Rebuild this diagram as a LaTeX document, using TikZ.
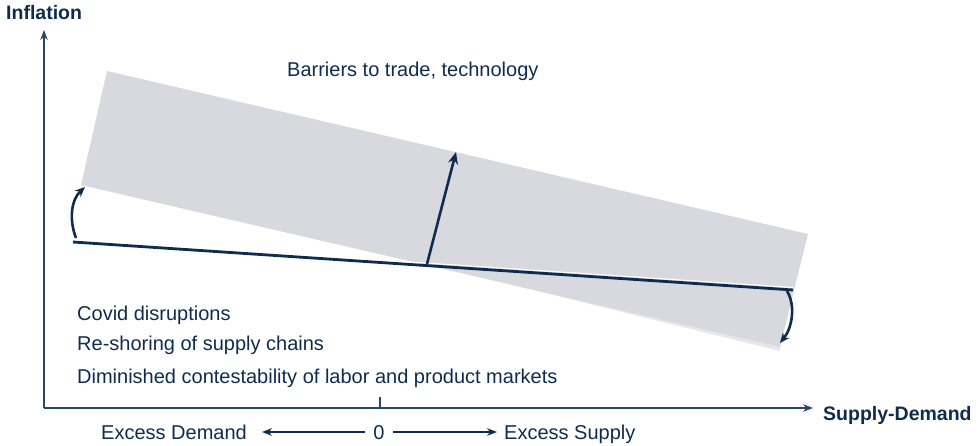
\documentclass[tikz,border=0pt]{standalone}
\usepackage{fontspec}
\setmainfont{Liberation Sans}
\usetikzlibrary{arrows.meta,calc}
\definecolor{navy}{HTML}{0F2C4E}
\definecolor{axisblue}{HTML}{2A4866}
\definecolor{bandgray}{HTML}{D8D9DF}
\definecolor{bandedge}{HTML}{E6E7EB}
\begin{document}
\begin{tikzpicture}[x=1pt,y=-1pt,
  lbl/.style={font=\fontsize{20}{23}\selectfont, text=navy, inner sep=0pt},
  boldlbl/.style={lbl, font=\fontsize{19.5}{22}\selectfont\bfseries},
  axisline/.style={draw=axisblue, line width=1.3pt, -{Stealth[length=10pt,width=7.5pt]}},
  curveline/.style={draw=navy, line width=2.8pt},
  arr/.style={draw=navy, line width=2.6pt, -{Stealth[length=12pt,width=10pt]}},
  curvearr/.style={draw=navy, line width=2.6pt, -{Stealth[length=10pt,width=8.5pt]}},
  smallarr/.style={draw=navy, line width=1.8pt, -{Stealth[length=10pt,width=7.5pt]}}
]
\useasboundingbox (0,0) rectangle (980,446);
% band
\coordinate (tl) at (107,71);
\coordinate (bl) at (81,185);
\coordinate (tr) at (808,234);
\coordinate (br) at (780,347);
\coordinate (wm) at (440,267);
\coordinate (wb) at (780,351);
\fill[bandedge] (wm) -- (br) -- (wb) -- cycle;
\fill[bandgray] (tl) -- (tr) -- (br) -- (bl) -- cycle;
% axes
\coordinate (o) at (44,408);
\coordinate (ytop) at (44,30);
\coordinate (xend) at (813,408);
\draw[axisline] (o) -- (ytop);
\draw[axisline] (o) -- (xend);
\coordinate (tick0) at (380,408);
\coordinate (tick1) at (380,397);
\draw[axisblue, line width=1.3pt] (tick0) -- (tick1);
% curve line
\coordinate (cl) at (73,242);
\coordinate (cr) at (793,290);
\draw[white, line width=1pt] ($(cl)+(0,-2.5)$) -- ($(cr)+(0,-2.5)$);
\draw[curveline] (cl) -- (cr);
% up arrow
\coordinate (ua) at (427,264);
\coordinate (ub) at (456,152);
\draw[arr] (ua) -- (ub);
% left curved arrow
\coordinate (la) at (76,238);
\coordinate (lb) at (85,187);
\draw[curvearr] (la) .. controls (69,220) and (71,200) .. (lb);
% right curved arrow
\coordinate (ra) at (787,291);
\coordinate (rb) at (780,343);
\draw[curvearr] (ra) .. controls (796,306) and (792,328) .. (rb);
% texts
\node[boldlbl, anchor=base west] (infl) at (6,20) {Inflation};
\node[boldlbl, anchor=base west] (sd) at (823,420) {Supply-Demand};
\node[lbl, anchor=base west] (bar) at (287,77) {Barriers to trade, technology};
\node[lbl, anchor=base west] (cov) at (77,320) {Covid disruptions};
\node[lbl, anchor=base west] (res) at (77,351) {Re-shoring of supply chains};
\node[lbl, anchor=base west] (dim) at (77,383) {Diminished contestability of labor and product markets};
\node[lbl, anchor=base west] (ed) at (101,439) {Excess Demand};
\node[lbl, anchor=base] (zero) at (379,439) {0};
\node[lbl, anchor=base west] (es) at (504,439) {Excess Supply};
\coordinate (edA) at (365,432);
\coordinate (edB) at (262,432);
\coordinate (esA) at (393,432);
\coordinate (esB) at (497,432);
\draw[smallarr] (edA) -- (edB);
\draw[smallarr] (esA) -- (esB);
\end{tikzpicture}
\end{document}
